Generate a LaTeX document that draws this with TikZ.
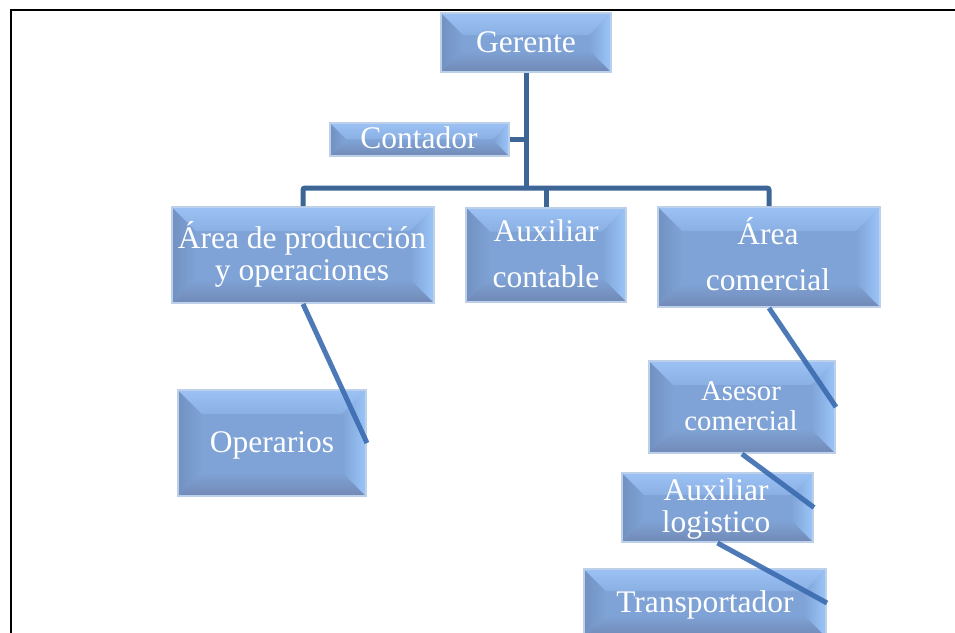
\documentclass[tikz,border=0pt]{standalone}
\usepackage{fontspec}
\setmainfont{Liberation Serif}
\usetikzlibrary{calc}
\definecolor{boxface}{HTML}{7FA3D6}
\definecolor{bvtop}{HTML}{9CC2F5}
\definecolor{bvright}{HTML}{9BC5F9}
\definecolor{bvbottom}{HTML}{7189B6}
\definecolor{bvleft}{HTML}{7291C1}
\definecolor{boxedge}{HTML}{BCD0EA}
\definecolor{treeline}{HTML}{3D6696}
\definecolor{diagline}{HTML}{3A6BAF}
\newcommand\bevelfill[1]{%
  \coordinate (bsw) at (path picture bounding box.south west);
  \coordinate (bne) at (path picture bounding box.north east);
  \coordinate (bnw) at (bsw |- bne);
  \coordinate (bse) at (bne |- bsw);
  \coordinate (isw) at ($(bsw)+(#1pt,#1pt)$);
  \coordinate (ine) at ($(bne)+(-#1pt,-#1pt)$);
  \coordinate (inw) at (isw |- ine);
  \coordinate (ise) at (ine |- isw);
  \shade[left color=bvleft, right color=boxface] (bnw) -- (bsw) -- (isw) -- (inw) -- cycle;
  \shade[top color=boxface, bottom color=bvbottom] (bsw) -- (bse) -- (ise) -- (isw) -- cycle;
  \shade[left color=boxface, right color=bvright] (bne) -- (bse) -- (ise) -- (ine) -- cycle;
  \shade[top color=bvtop, bottom color=boxface!60!bvtop] (bnw) -- (bne) -- (ine) -- (inw) -- cycle;
}
\tikzset{
  bx/.style={draw=boxedge, line width=2pt, fill=boxface, inner sep=0pt, rectangle,
    path picture={\bevelfill{#1}}},
  txt/.style={text=white, inner sep=0pt, anchor=base, font=\fontsize{31.5}{31.5}\selectfont},
  txtsmall/.style={txt, font=\fontsize{28.7}{28.7}\selectfont},
  tree/.style={draw=treeline, line width=5pt, rounded corners=2pt},
  diag/.style={draw=diagline, line width=5pt, opacity=0.9}
}
\begin{document}
\begin{tikzpicture}[x=1pt, y=-1pt]
\clip (0,0) rectangle (955,632);
\fill[white] (0,0) rectangle (955,632);
% frame
\draw[black, line width=2.5pt] (11,700) -- (11,10) -- (970,10);

% boxes
\node[bx=22, minimum width=170pt, minimum height=59pt] (gerente) at (526,42.5) {};
\node[bx=16, minimum width=179pt, minimum height=33pt] (contador) at (419.5,139.5) {};
\node[bx=24, minimum width=262pt, minimum height=96pt] (prod) at (303,255) {};
\node[bx=24, minimum width=160pt, minimum height=94pt] (contable) at (546,254.5) {};
\node[bx=24, minimum width=222pt, minimum height=100pt] (comercial) at (769,257) {};
\node[bx=24, minimum width=188pt, minimum height=106pt] (oper) at (272,443) {};
\node[bx=24, minimum width=186pt, minimum height=92pt] (asesor) at (742,407) {};
\node[bx=22, minimum width=191pt, minimum height=69pt] (logistico) at (717.5,507.5) {};
\node[bx=22, minimum width=242pt, minimum height=68pt] (transp) at (705,603) {};

% tree connectors
\coordinate (busy) at (0,188);
\draw[tree] (gerente.south) -- (gerente.south |- busy);
\draw[tree] (contador.east) -- (contador.east -| gerente.south);
\draw[tree] (prod.north) -- (prod.north |- busy) -| (comercial.north);
\draw[tree] (contable.north) -- (contable.north |- busy);

% diagonal connectors
\draw[diag] (prod.south) -- (oper.east);
\draw[diag] (comercial.south) -- (asesor.east);
\draw[diag] (asesor.south) -- (logistico.east);
\draw[diag] (logistico.south) -- (transp.east);

% texts
\node[txt] (gerente-t) at (526,52) {Gerente};
\node[txt] (contador-t) at (419,148) {Contador};
\node[txt] (prod-t1) at (302,248) {Área de producción};
\node[txt] (prod-t2) at (302,280) {y operaciones};
\node[txt] (contable-t1) at (546,241) {Auxiliar};
\node[txt] (contable-t2) at (546,287) {contable};
\node[txt] (comercial-t1) at (768,244) {Área};
\node[txt] (comercial-t2) at (768,290) {comercial};
\node[txt] (oper-t) at (272,452) {Operarios};
\node[txtsmall] (asesor-t1) at (741,400) {Asesor};
\node[txtsmall] (asesor-t2) at (741,430) {comercial};
\node[txt] (logistico-t1) at (716,500) {Auxiliar};
\node[txt] (logistico-t2) at (716,532) {logistico};
\node[txt] (transp-t) at (705,612) {Transportador};
\end{tikzpicture}
\end{document}
